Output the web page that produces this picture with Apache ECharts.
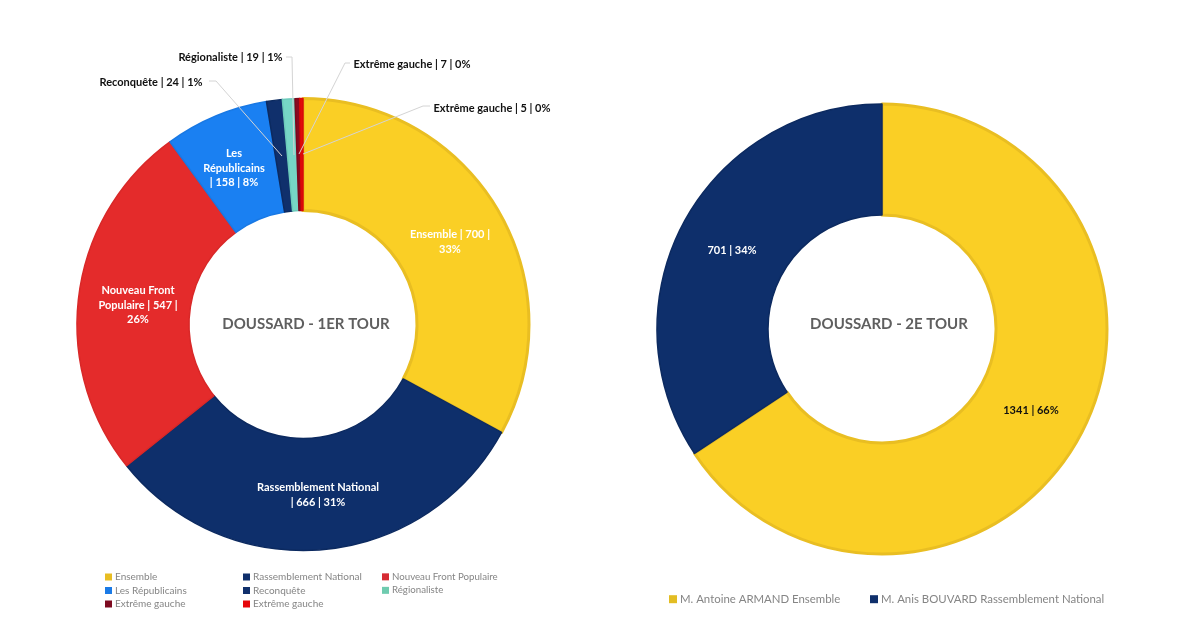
<!DOCTYPE html>
<html><head><meta charset="utf-8">
<style>html,body{margin:0;padding:0;background:#fff}#c{width:1200px;height:630px}</style>
<script src="https://cdn.jsdelivr.net/npm/echarts@6/dist/echarts.min.js"></script>
</head><body><div id="c"></div>
<script>
const names1 = ['Ensemble','Rassemblement National','Nouveau Front Populaire','Les Républicains','Reconquête','Régionaliste','Extrême gauche','Extrême gauche'];
const values1 = [700,666,547,158,24,19,7,5];
const labels1 = ['Ensemble | 700 |\n33%','Rassemblement National\n| 666 | 31%','Nouveau Front\nPopulaire | 547 |\n26%','Les\nRépublicains\n| 158 | 8%','Reconquête | 24 | 1%','Régionaliste | 19 | 1%','Extrême gauche | 7 | 0%','Extrême gauche | 5 | 0%'];
const names2 = ['M. Antoine ARMAND Ensemble','M. Anis BOUVARD Rassemblement National'];
const values2 = [1341,701];
const labels2 = ['1341 | 66%','701 | 34%'];
const titles = ['DOUSSARD - 1ER TOUR','DOUSSARD - 2E TOUR'];

const fill1 = ['#FACF25','#0E2F6B','#E42B2B','#1A80F2','#10306C','#76D6C6','#8A0A20','#E20A0A'];
const edge1 = ['#E9BE22','#0C2A60','#D92828','#1878E4','#0C2A60','#6CCBBB','#7D081C','#D80808'];
const legend1 = ['#E8BD22','#0F2F6B','#D62B33','#1A7AE6','#10306C','#6FCBAF','#7D0A20','#E6060A'];
const fill2 = ['#FACF25','#0E2F6B'];
const edge2 = ['#E9BE22','#0C2A60'];
const textColor1 = ['#fff','#fff','#fff','#fff','#111','#111','#111','#111'];
const textColor2 = ['#111','#fff'];
const labelAt1 = [[450,242],[318,495],[138,305],[234,168],[151,82],[230.5,57],[412,64],[492,108]];
const labelAt2 = [[1031,410],[732,250]];
const leaders1 = [[[282,156],[216,81],[209,81]],[[294,155],[292,57],[286,57]],[[299,154],[345,63],[350,63]],[[303,154],[423,106],[430,106]]];

const font = 'Lato, "Open Sans", sans-serif';

function pie(center, radius, names, values, labels, fill, edge, tc, at) {
  return {
    type:'pie', center, radius, silent:true, animation:false, avoidLabelOverlap:false, percentPrecision:0,
    emphasis:{disabled:true},
    label:{position:'outside',fontFamily:font,fontSize:11,fontWeight:'bold',lineHeight:14.5,align:'center'},
    labelLine:{show:false},
    labelLayout:p=>{
      const a=at[p.dataIndex];
      return {x:a[0],y:a[1],align:'center',verticalAlign:'middle'};
    },
    data:names.map((n,i)=>({name:n,value:values[i],
      itemStyle:{color:fill[i],borderColor:edge[i],borderWidth:i===0?3:1.5},
      label:{formatter:labels[i],color:tc[i]}}))
  };
}

function legend(left, top, items, size, fs, gap) {
  return {left, top, orient:'vertical', selectedMode:false, itemWidth:size, itemHeight:size, itemGap:gap, padding:0,
    icon:'rect', textStyle:{fontFamily:font,fontSize:fs,color:'#858585',padding:[0,0,0,-2],lineHeight:fs+1},
    data:items.map(([n,c])=>({name:n,icon:'rect',itemStyle:{color:c,borderWidth:0}}))};
}

const chart = echarts.init(document.getElementById('c'),null,{renderer:'canvas'});
chart.setOption({
  backgroundColor:'#fff', animation:false,
  title:[
    {text:titles[0],left:306,top:317,textAlign:'center',padding:0,textStyle:{fontFamily:font,fontSize:15,fontWeight:'bold',color:'#5F5F5F'}},
    {text:titles[1],left:889,top:317,textAlign:'center',padding:0,textStyle:{fontFamily:font,fontSize:15,fontWeight:'bold',color:'#5F5F5F'}}
  ],
  legend:[
    legend(105,571.5,[[names1[0],legend1[0]],[names1[3],legend1[3]],[names1[6],legend1[6]]],7,10,2.5),
    legend(243,571.5,[[names1[1],legend1[1]],[names1[4],legend1[4]],[names1[7],legend1[7]]],7,10,2.5),
    legend(382,571.5,[[names1[2],legend1[2]],[names1[5],legend1[5]]],7,9.7,2.8),
    legend(669,593,[[names2[0],'#E3BD23']],8,11.4,0),
    legend(870,593,[[names2[1],'#0F2F6B']],8,11.4,0)
  ],
  graphic:leaders1.map(pts=>({type:'polyline',z:100,silent:true,shape:{points:pts},style:{stroke:'#D4D4D4',lineWidth:1,fill:null}})),
  series:[
    pie([303,324.5],[114,226],names1,values1,labels1,fill1,edge1,textColor1,labelAt1),
    pie([882,329],[114,225],names2,values2,labels2,fill2,edge2,textColor2,labelAt2)
  ]
});
</script></body></html>
